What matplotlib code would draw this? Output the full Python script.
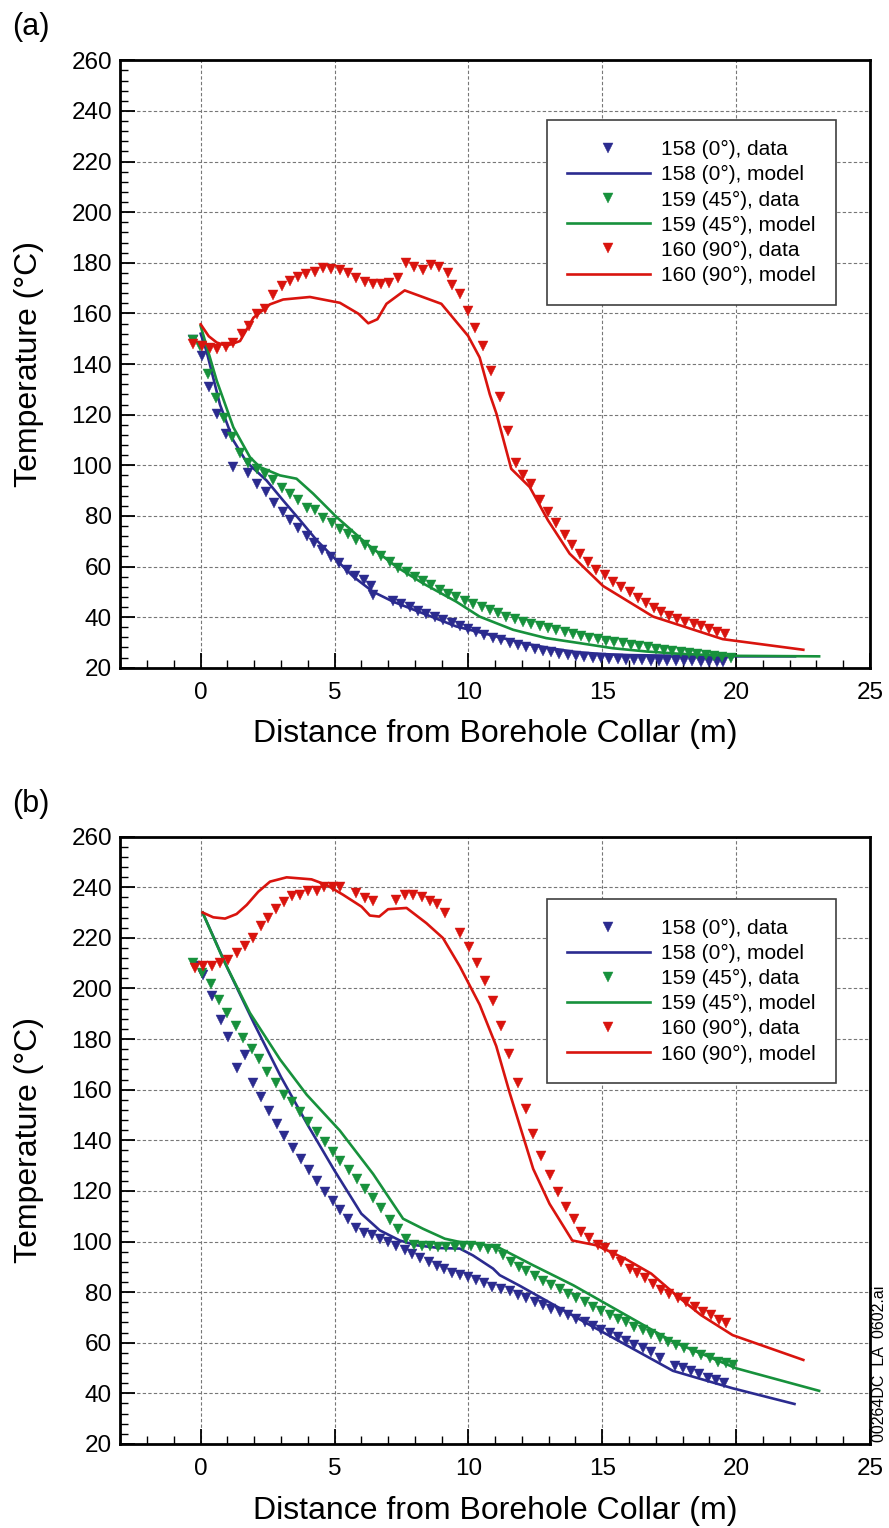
import matplotlib
matplotlib.use('Agg')
from matplotlib import pyplot as plt
from matplotlib.ticker import MultipleLocator

plt.rcParams['font.family'] = ['Liberation Sans', 'DejaVu Sans']

# Colours of the three boreholes
c_blue = '#2b2b8f'
c_green = '#17913c'
c_red = '#d9140e'

labels = ['158 (0°), data', '158 (0°), model',
          '159 (45°), data', '159 (45°), model',
          '160 (90°), data', '160 (90°), model']

# ---------------- panel (a) ----------------
a_blue_data_x = [-0.3, 0.04, 0.32, 0.62, 0.95, 1.22, 1.78, 2.11, 2.44, 2.74, 3.06, 3.33, 3.64, 3.96, 4.24,
                 4.55, 4.85, 5.16, 5.47, 5.77, 6.09, 6.38, 6.44, 7.19, 7.5, 7.81, 8.12, 8.43, 8.74, 9.05,
                 9.37, 9.68, 9.99, 10.3, 10.6, 10.92, 11.23, 11.54, 11.85, 12.16, 12.47, 12.78, 13.09,
                 13.4, 13.71, 14.02, 14.33, 14.64, 14.95, 15.26, 15.57, 15.88, 16.19, 16.5, 16.81, 17.12,
                 17.43, 17.74, 18.05, 18.36, 18.67, 18.98, 19.29, 19.5]
a_blue_data_y = [149.5, 143.2, 131.0, 120.3, 112.4, 99.3, 96.9, 92.7, 89.3, 85.1, 81.7, 78.3, 75.1, 72.0, 69.1,
                 66.7, 63.8, 61.5, 58.8, 56.2, 54.6, 52.3, 48.7, 46.5, 45.2, 43.9, 42.6, 41.1, 39.9, 38.9,
                 37.6, 36.3, 35.2, 34.2, 33.0, 31.6, 30.8, 29.9, 29.0, 28.2, 27.5, 26.8, 26.2,
                 25.6, 25.1, 24.7, 24.3, 24.0, 23.7, 23.5, 23.3, 23.1, 23.0, 22.9, 22.8, 22.7,
                 22.6, 22.6, 22.5, 22.5, 22.4, 22.4, 22.4, 22.3]
a_blue_model_x = [0.0, 0.22, 0.72, 1.22, 1.72, 2.46, 3.08, 3.71, 4.33, 4.95, 5.7, 6.44, 7.19, 8.3, 9.55,
                  10.8, 12.0, 13.0, 14.0, 15.0, 16.0, 18.0, 20.0, 22.2]
a_blue_model_y = [152.0, 145.0, 124.0, 109.8, 101.2, 94.0, 86.1, 78.3, 70.4, 63.8, 56.0, 50.0, 46.1, 41.5,
                  36.3, 33.0, 29.8, 27.8, 26.2, 25.4, 25.0, 24.7, 24.5, 24.5]

a_green_data_x = [-0.27, -0.02, 0.29, 0.57, 0.87, 1.16, 1.47, 1.78, 2.09, 2.4, 2.71, 3.02, 3.33, 3.64, 3.96,
                  4.27, 4.58, 4.89, 5.2, 5.51, 5.82, 6.13, 6.44, 6.75, 7.06, 7.38, 7.69, 8.0, 8.31, 8.62,
                  8.93, 9.24, 9.55, 9.86, 10.17, 10.49, 10.8, 11.1, 11.42, 11.73, 12.04, 12.35, 12.66,
                  12.97, 13.28, 13.59, 13.9, 14.21, 14.52, 14.83, 15.14, 15.45, 15.76, 16.07, 16.38,
                  16.69, 17.0, 17.31, 17.62, 17.93, 18.24, 18.55, 18.86, 19.17, 19.48, 19.8]
a_green_data_y = [149.4, 147.2, 136.0, 126.6, 118.7, 111.3, 104.8, 100.8, 98.6, 96.4, 94.0, 91.1, 88.8, 86.1,
                  83.3, 82.2, 79.3, 77.0, 75.0, 72.8, 70.4, 68.4, 66.2, 64.1, 61.9, 59.6, 57.8, 56.0, 54.3,
                  52.5, 50.7, 49.1, 47.8, 46.5, 45.2, 43.9, 42.8, 41.5, 40.2, 39.1, 38.2, 37.3, 36.4,
                  35.6, 34.8, 34.0, 33.3, 32.6, 31.9, 31.3, 30.7, 30.2, 29.6, 29.1, 28.6,
                  28.1, 27.6, 27.1, 26.6, 26.1, 25.7, 25.3, 24.9, 24.5, 24.2, 23.9]
a_green_model_x = [0.0, 0.6, 1.22, 1.84, 2.21, 2.96, 3.58, 4.2, 5.07, 6.19, 7.31, 8.31, 9.55, 10.42, 11.67,
                   12.91, 14.17, 15.4, 16.67, 17.9, 19.1, 20.0, 23.1]
a_green_model_y = [155.0, 133.4, 115.0, 103.2, 99.3, 96.0, 94.7, 88.8, 79.6, 69.1, 59.9, 53.3, 46.1, 40.2,
                   35.0, 31.7, 29.7, 27.7, 26.4, 25.5, 25.0, 24.7, 24.5]

a_red_data_x = [-0.27, 0.04, 0.35, 0.62, 0.95, 1.22, 1.53, 1.82, 2.11, 2.41, 2.71, 3.02, 3.33, 3.64, 3.95,
                4.26, 4.57, 4.88, 5.19, 5.5, 5.81, 6.12, 6.43, 6.74, 7.05, 7.36, 7.67, 7.98, 8.29, 8.6,
                8.91, 9.22, 9.37, 9.68, 9.99, 10.24, 10.55, 10.86, 11.17, 11.48, 11.77, 12.04, 12.35,
                12.66, 12.97, 13.28, 13.6, 13.88, 14.18, 14.47, 14.78, 15.09, 15.4, 15.7, 16.02, 16.33,
                16.65, 16.92, 17.2, 17.5, 17.8, 18.1, 18.43, 18.7, 19.0, 19.3, 19.6]
a_red_data_y = [148.1, 147.2, 146.5, 145.9, 146.8, 148.5, 151.8, 155.0, 159.6, 161.6, 167.2, 170.8, 172.8,
                174.5, 175.5, 176.5, 178.0, 177.5, 177.0, 175.8, 174.0, 172.5, 171.5, 171.5, 172.0, 174.0,
                179.8, 178.5, 177.0, 179.0, 178.5, 176.0, 171.4, 167.5, 161.0, 154.4, 147.2, 137.3, 126.8,
                113.7, 100.8, 96.0, 92.7, 86.1, 81.5, 77.0, 72.4, 68.4, 64.9, 61.9, 58.8, 56.6, 54.0, 52.0,
                49.8, 47.4, 45.5, 43.5, 42.2, 40.5, 39.2, 38.2, 37.3, 36.3, 35.2, 34.3, 33.4]
a_red_model_x = [0.0, 0.3, 0.6, 0.97, 1.47, 1.97, 2.59, 3.08, 4.08, 5.2, 5.89, 6.26, 6.6, 6.94, 7.62, 8.99,
                 9.99, 10.42, 10.8, 11.05, 11.6, 12.29, 12.97, 13.78, 15.03, 16.9, 19.5, 22.51]
a_red_model_y = [155.7, 151.0, 148.5, 147.2, 149.1, 158.3, 163.6, 165.5, 166.5, 164.2, 159.9, 156.1, 157.7,
                 163.8, 169.1, 163.8, 151.1, 142.6, 128.0, 120.3, 98.6, 91.4, 78.3, 65.1, 52.3, 40.2, 31.3,
                 27.1]

# ---------------- panel (b) ----------------
b_blue_data_x = [-0.2, 0.1, 0.41, 0.75, 1.03, 1.34, 1.65, 1.94, 2.24, 2.54, 2.84, 3.13, 3.43, 3.73, 4.03,
                 4.33, 4.63, 4.93, 5.2, 5.51, 5.82, 6.09, 6.39, 6.69, 7.0, 7.31, 7.62, 7.91, 8.21, 8.51,
                 8.81, 9.1, 9.4, 9.7, 10.0, 10.3, 10.6, 10.9, 11.2, 11.54, 11.85, 12.16, 12.47, 12.78,
                 13.1, 13.41, 13.72, 14.03, 14.35, 14.66, 14.96, 15.28, 15.6, 15.9, 16.2, 16.52, 16.83,
                 17.14, 17.7, 18.01, 18.32, 18.63, 18.94, 19.25, 19.56]
b_blue_data_y = [209.0, 205.4, 196.9, 187.7, 180.9, 168.5, 173.8, 162.5, 157.1, 151.6, 146.4, 141.5, 136.9,
                 132.6, 128.4, 124.1, 119.7, 116.2, 112.3, 108.7, 105.3, 103.5, 102.4, 101.1, 99.8, 98.2,
                 96.5, 95.2, 93.5, 91.9, 90.3, 89.3, 87.7, 86.7, 86.0, 84.7, 83.6, 82.1, 81.2, 80.4, 78.8,
                 77.5, 76.2, 74.9, 73.5, 72.2, 70.9, 69.3, 68.0, 66.7, 65.0, 63.7, 62.3, 60.7, 59.1, 57.8,
                 56.2, 53.9, 51.0, 49.9, 48.9, 47.6, 46.2, 45.3, 44.0]
b_blue_model_x = [0.07, 1.0, 2.0, 3.0, 4.0, 5.0, 6.0, 6.69, 7.44, 8.06, 8.93, 9.68, 10.17, 10.92, 11.17,
                  11.92, 14.4, 17.64, 19.87, 22.18]
b_blue_model_y = [230.0, 208.0, 186.0, 165.0, 146.0, 128.0, 111.0, 104.4, 100.4, 98.5, 97.4, 97.2, 94.5,
                  89.3, 86.7, 82.5, 67.8, 48.9, 42.0, 35.8]

b_green_data_x = [-0.27, 0.05, 0.37, 0.7, 1.0, 1.31, 1.59, 1.9, 2.19, 2.49, 2.81, 3.11, 3.41, 3.71, 4.02,
                  4.33, 4.64, 4.93, 5.22, 5.55, 5.85, 6.14, 6.44, 6.75, 7.06, 7.36, 7.66, 7.96, 8.28, 8.58,
                  8.88, 9.18, 9.49, 9.8, 10.11, 10.42, 10.73, 11.04, 11.3, 11.6, 11.9, 12.16, 12.47, 12.78,
                  13.1, 13.41, 13.72, 14.03, 14.35, 14.66, 14.96, 15.28, 15.6, 15.9, 16.2, 16.52, 16.83,
                  17.14, 17.45, 17.76, 18.07, 18.39, 18.7, 19.01, 19.32, 19.63, 19.87]
b_green_data_y = [210.0, 206.0, 201.9, 195.3, 190.4, 185.3, 180.5, 176.2, 172.2, 167.0, 162.8, 157.8, 155.2,
                  151.2, 147.3, 143.1, 139.4, 135.5, 131.8, 128.1, 124.7, 120.8, 117.1, 113.2, 108.3, 104.8,
                  101.1, 98.7, 98.2, 98.2, 97.9, 97.9, 97.9, 98.2, 98.2, 97.7, 97.2, 96.9, 94.8, 92.0, 89.8,
                  88.2, 86.4, 84.3, 82.7, 81.2, 79.4, 77.7, 75.9, 74.2, 72.5, 70.9, 69.3, 68.0, 66.3, 65.0,
                  63.3, 61.7, 60.4, 59.1, 58.1, 56.2, 55.2, 53.9, 52.5, 51.9, 51.2]
b_green_model_x = [0.07, 0.85, 1.84, 2.96, 3.96, 5.2, 6.44, 7.56, 8.31, 9.12, 9.68, 10.42, 11.17, 12.42,
                   13.92, 17.64, 20.0, 23.1]
b_green_model_y = [230.0, 211.3, 190.3, 172.0, 158.0, 143.8, 126.7, 109.0, 105.0, 101.1, 99.8, 99.1, 97.4,
                   90.6, 82.7, 60.4, 49.9, 41.0]

b_red_data_x = [-0.21, 0.1, 0.41, 0.72, 1.03, 1.34, 1.65, 1.94, 2.24, 2.52, 2.81, 3.11, 3.41, 3.71, 4.02,
                4.33, 4.6, 4.93, 5.2, 5.82, 6.13, 6.44, 7.31, 7.62, 7.94, 8.25, 8.56, 8.84, 9.12, 9.7,
                10.02, 10.32, 10.61, 10.92, 11.23, 11.52, 11.85, 12.14, 12.41, 12.72, 13.03, 13.35, 13.66,
                13.93, 14.22, 14.52, 14.84, 15.12, 15.4, 15.71, 16.03, 16.3, 16.58, 16.89, 17.2, 17.51,
                17.82, 18.14, 18.45, 18.75, 19.07, 19.35, 19.63]
b_red_data_y = [208.0, 208.7, 208.7, 210.0, 211.3, 214.0, 216.9, 219.9, 224.5, 227.7, 231.3, 234.0, 236.5,
                237.0, 238.6, 238.6, 240.2, 240.2, 240.2, 237.6, 235.6, 234.7, 235.0, 236.8, 236.8, 236.0,
                234.7, 233.4, 230.0, 221.8, 216.3, 210.0, 202.8, 194.9, 185.1, 174.0, 162.8, 152.3, 142.4,
                133.9, 126.3, 119.5, 113.6, 109.0, 103.7, 101.4, 98.5, 97.4, 94.5, 91.9, 89.3, 87.7, 85.4,
                83.4, 80.8, 79.4, 77.7, 76.2, 74.2, 72.2, 70.9, 69.0, 67.6]
b_red_model_x = [0.07, 0.47, 0.91, 1.34, 1.72, 2.15, 2.59, 3.21, 4.14, 4.7, 5.32, 6.01, 6.32, 6.67, 7.0,
                 7.69, 8.43, 9.05, 9.68, 10.42, 11.04, 11.54, 12.42, 13.03, 13.88, 14.78, 15.89, 16.83,
                 17.76, 18.69, 19.87, 22.51]
b_red_model_y = [230.0, 228.1, 227.6, 229.4, 233.0, 238.2, 242.2, 243.9, 243.1, 240.9, 237.0, 232.3, 228.8,
                 228.4, 231.3, 231.8, 225.8, 219.9, 208.7, 193.6, 177.2, 158.8, 128.7, 114.9, 100.4, 98.5,
                 93.0, 87.3, 78.8, 70.9, 63.0, 53.2]

panels = [
    ('(a)', [0.1354, 0.5630, 0.8432, 0.3975],
     [(a_blue_data_x, a_blue_data_y, a_blue_model_x, a_blue_model_y, c_blue),
      (a_green_data_x, a_green_data_y, a_green_model_x, a_green_model_y, c_green),
      (a_red_data_x, a_red_data_y, a_red_model_x, a_red_model_y, c_red)],
     0.901),
    ('(b)', [0.1354, 0.0550, 0.8432, 0.3975],
     [(b_blue_data_x, b_blue_data_y, b_blue_model_x, b_blue_model_y, c_blue),
      (b_green_data_x, b_green_data_y, b_green_model_x, b_green_model_y, c_green),
      (b_red_data_x, b_red_data_y, b_red_model_x, b_red_model_y, c_red)],
     0.897),
]

fig = plt.figure(figsize=(8.89, 15.28), dpi=100)

for tag, rect, series, leg_top in panels:
    ax = fig.add_axes(rect)
    handles = []
    for dx, dy, mx, my, col in series:
        hd, = ax.plot(dx, dy, linestyle='none', marker='v', ms=7.8, color=col, mec=col, mew=0.3)
        hm, = ax.plot(mx, my, '-', lw=1.9, color=col)
        handles += [hd, hm]

    ax.set_xlim(-3, 25)
    ax.set_ylim(20, 260)
    ax.xaxis.set_major_locator(MultipleLocator(5))
    ax.xaxis.set_minor_locator(MultipleLocator(1))
    ax.yaxis.set_major_locator(MultipleLocator(20))
    ax.yaxis.set_minor_locator(MultipleLocator(4))
    ax.set_xticks([0, 5, 10, 15, 20, 25])
    ax.tick_params(which='both', direction='in', top=False, right=False, labelsize=17.5)
    ax.tick_params(which='major', length=11, width=1.3)
    ax.tick_params(which='minor', length=6, width=1.0)
    ax.tick_params(axis='x', which='major', pad=10)
    ax.tick_params(axis='y', which='major', pad=6)
    ax.grid(True, which='major', color='#777777', linestyle=(0, (3, 2)), linewidth=0.8)
    ax.set_axisbelow(True)
    for sp in ax.spines.values():
        sp.set_linewidth(2.0)

    ax.set_xlabel('Distance from Borehole Collar (m)', fontsize=23)
    ax.set_ylabel('Temperature (°C)', fontsize=23)
    ax.xaxis.set_label_coords(0.5, -0.085)
    ax.yaxis.set_label_coords(-0.102, 0.5)

    leg = ax.legend(handles, labels, loc='upper left', bbox_to_anchor=(0.569, leg_top),
                    borderaxespad=0, fontsize=15, numpoints=1, handlelength=4.0,
                    handletextpad=0.55, labelspacing=0.29, borderpad=0.95,
                    fancybox=False, framealpha=1, edgecolor='#404040', markerscale=0.9)
    leg.get_frame().set_linewidth(1.2)

    fig.text(12 / 889, rect[1] + rect[3] + 33 / 1528, tag, fontsize=22, ha='left', va='center')

fig.text(880 / 889, 1 - 1442 / 1528, '00264DC  LA  0602.ai', rotation=90, fontsize=11.5,
         ha='center', va='bottom')

fig.savefig('out.png', dpi=100)
